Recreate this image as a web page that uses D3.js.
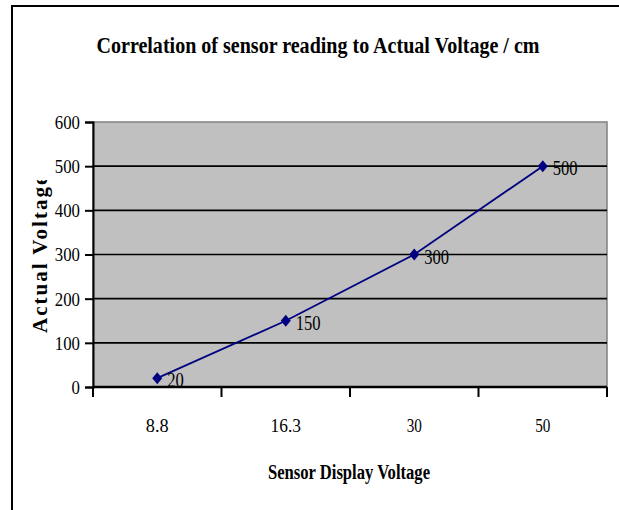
<!DOCTYPE html>
<html lang="en">
  <head>
    <meta charset="utf-8">
    <script src="https://d3js.org/d3.v7.min.js"></script>
    <title>Sensor Correlation</title>
    <style>
      body { margin: 0; background: #fff; }
      svg { display: block; font-family: "Liberation Serif", "Times New Roman", serif; }
      .tick text { font-size: 18px; fill: #000; }
    </style>
  </head>
  <body>
    <div class="chartHolder"></div>
    <script>
      const categories = ['8.8', '16.3', '30', '50'];
      const actualVoltage = [20, 150, 300, 500];
      const yTicks = [0, 100, 200, 300, 400, 500, 600];

      const svgSize = {'width': 619, 'height': 510};
      const plot = {'left': 93, 'top': 122, 'right': 607, 'bottom': 387};

      let svg = d3.select('.chartHolder')
        .append('svg')
        .attr('width', svgSize.width)
        .attr('height', svgSize.height);

      // outer frame (top and left only visible)
      svg.append('path')
        .attr('d', 'M12,' + svgSize.height + ' V6 H' + svgSize.width)
        .attr('fill', 'none')
        .attr('stroke', '#000')
        .attr('stroke-width', 2);

      let xScale = d3.scaleBand()
        .domain(categories)
        .range([plot.left, plot.right]);
      let yScale = d3.scaleLinear()
        .domain([0, 600])
        .range([plot.bottom, plot.top]);

      svg.append('rect')
        .attr('x', plot.left)
        .attr('y', plot.top)
        .attr('width', plot.right - plot.left)
        .attr('height', plot.bottom - plot.top)
        .attr('fill', '#c0c0c0')
        .attr('stroke', '#808080')
        .attr('stroke-width', 1.5);

      // gridlines
      svg.selectAll('.grid')
        .data(yTicks.filter((d) => d > 0 && d < 600))
        .enter()
        .append('line')
          .attr('class', 'grid')
          .attr('x1', plot.left)
          .attr('x2', plot.right)
          .attr('y1', (d) => yScale(d))
          .attr('y2', (d) => yScale(d))
          .attr('stroke', '#000')
          .attr('stroke-width', 1.6);

      let yAxis = d3.axisLeft(yScale).tickValues(yTicks).tickSize(8).tickPadding(5);
      let gy = svg.append('g')
        .attr('transform', 'translate(' + plot.left + ',0)')
        .call(yAxis)
        .attr('font-family', null)
        .attr('font-size', null);
      gy.select('.domain').attr('stroke-width', 2);
      gy.selectAll('.tick line').attr('stroke-width', 2);
      gy.selectAll('.tick text')
        .attr('dy', '0.36em')
        .attr('textLength', (d) => String(d).length * 8.4)
        .attr('lengthAdjust', 'spacingAndGlyphs');

      let xAxis = d3.axisBottom(xScale).tickSize(0).tickPadding(32);
      let gx = svg.append('g')
        .attr('transform', 'translate(0,' + plot.bottom + ')')
        .call(xAxis)
        .attr('font-family', null)
        .attr('font-size', null);
      gx.select('.domain').attr('stroke-width', 2.5).attr('d', 'M' + plot.left + ',0H' + plot.right);
      gx.selectAll('.tick text')
        .attr('textLength', (d) => d.length * 7.6)
        .attr('lengthAdjust', 'spacingAndGlyphs');
      // tick marks at the band edges
      gx.selectAll('.edge')
        .data(categories.concat(['end']))
        .enter()
        .append('line')
          .attr('class', 'edge')
          .attr('x1', (d, i) => i < categories.length ? xScale(d) : xScale.range()[1])
          .attr('x2', (d, i) => i < categories.length ? xScale(d) : xScale.range()[1])
          .attr('y1', 0)
          .attr('y2', 10)
          .attr('stroke', '#000')
          .attr('stroke-width', 2);

      const cx = (d, i) => xScale(categories[i]) + xScale.bandwidth() / 2;

      let line = d3.line()
        .x((d, i) => cx(d, i))
        .y((d) => yScale(d));
      svg.append('path')
        .datum(actualVoltage)
        .attr('d', line)
        .attr('fill', 'none')
        .attr('stroke', '#000080')
        .attr('stroke-width', 1.8);

      svg.selectAll('.marker')
        .data(actualVoltage)
        .enter()
        .append('path')
          .attr('class', 'marker')
          .attr('d', 'M0,-6L5,0L0,6L-5,0Z')
          .attr('transform', (d, i) => 'translate(' + cx(d, i) + ',' + yScale(d) + ')')
          .attr('fill', '#000080');

      svg.selectAll('.dlabel')
        .data(actualVoltage)
        .enter()
        .append('text')
          .attr('class', 'dlabel')
          .attr('x', (d, i) => cx(d, i) + 10)
          .attr('y', (d) => yScale(d) + 2)
          .attr('dy', '0.36em')
          .attr('font-size', 20)
          .attr('textLength', (d) => String(d).length * 8.3)
          .attr('lengthAdjust', 'spacingAndGlyphs')
          .text((d) => d);

      svg.append('text')
        .attr('x', 318)
        .attr('y', 53)
        .attr('text-anchor', 'middle')
        .attr('font-size', 23)
        .attr('font-weight', 'bold')
        .attr('textLength', 443)
        .attr('lengthAdjust', 'spacingAndGlyphs')
        .text('Correlation of sensor reading to Actual Voltage / cm');

      svg.append('text')
        .attr('x', 349)
        .attr('y', 479)
        .attr('text-anchor', 'middle')
        .attr('font-size', 20)
        .attr('font-weight', 'bold')
        .attr('textLength', 162)
        .attr('lengthAdjust', 'spacingAndGlyphs')
        .text('Sensor Display Voltage');

      svg.append('clipPath')
        .attr('id', 'ylabClip')
        .append('rect')
          .attr('x', 14)
          .attr('y', 180)
          .attr('width', 60)
          .attr('height', 200);

      svg.append('g')
        .attr('clip-path', 'url(#ylabClip)')
        .append('text')
          .attr('transform', 'translate(47,333) rotate(-90)')
          .attr('font-size', 21)
          .attr('font-weight', 'bold')
          .attr('letter-spacing', 2)
          .text('Actual Voltage');
    </script>
  </body>
</html>
